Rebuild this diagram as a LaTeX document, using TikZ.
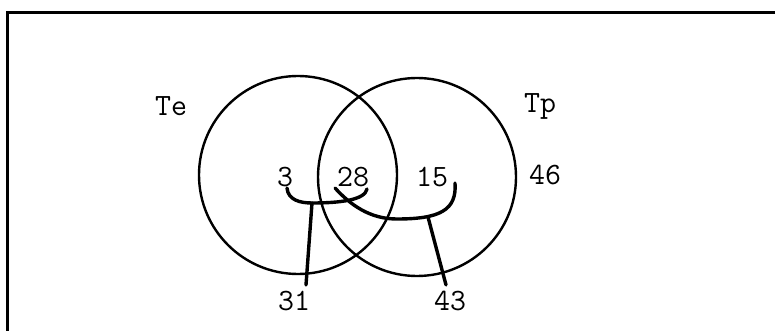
\documentclass[tikz,border=0pt]{standalone}
\usetikzlibrary{positioning}

\begin{document}
\begin{tikzpicture}[x=1pt,y=-1pt,
        zahl/.style={font=\ttfamily\fontsize{31}{33}\selectfont, inner sep=0pt},
        menge/.style={draw, circle, line width=2.4pt, minimum size=198pt, inner sep=0pt},
        klammer/.style={line width=3.4pt, line cap=round}
    ]
        \useasboundingbox (0,0) rectangle (775,331);
        \draw[line width=3pt] (7,331) -- (7,13) -- (775,13);

        \node[menge] (te) at (298,175) {};
        \node[menge] (tp) at (417,177) {};

        \node[zahl] (lte) at (171,106) {Te};
        \node[zahl] (ltp) at (540,106) {Tp};
        \node[zahl] (n3) at (285,177) {3};
        \node[zahl] (n28) at (353,177) {28};
        \node[zahl] (n15) at (432,177) {15};
        \node[zahl] (n46) at (545,175) {46};
        \node[zahl] (n31) at (294,301) {31};
        \node[zahl] (n43) at (450,301) {43};

        \coordinate (j1) at (312,203);
        \coordinate (j2) at (428,217);

        \draw[klammer] (287,188) .. controls (288,200) and (300,203) .. (j1)
            .. controls (340,203) and (365,200) .. (367,189);
        \draw[klammer] (335,188) .. controls (355,210) and (375,219) .. (397,219)
            .. controls (440,219) and (457,210) .. (455,183);
        \draw[klammer] (j1) -- ([xshift=12pt,yshift=6pt]n31.north);
        \draw[klammer] (j2) -- ([xshift=-4pt,yshift=6pt]n43.north);

    \end{tikzpicture}
\end{document}
